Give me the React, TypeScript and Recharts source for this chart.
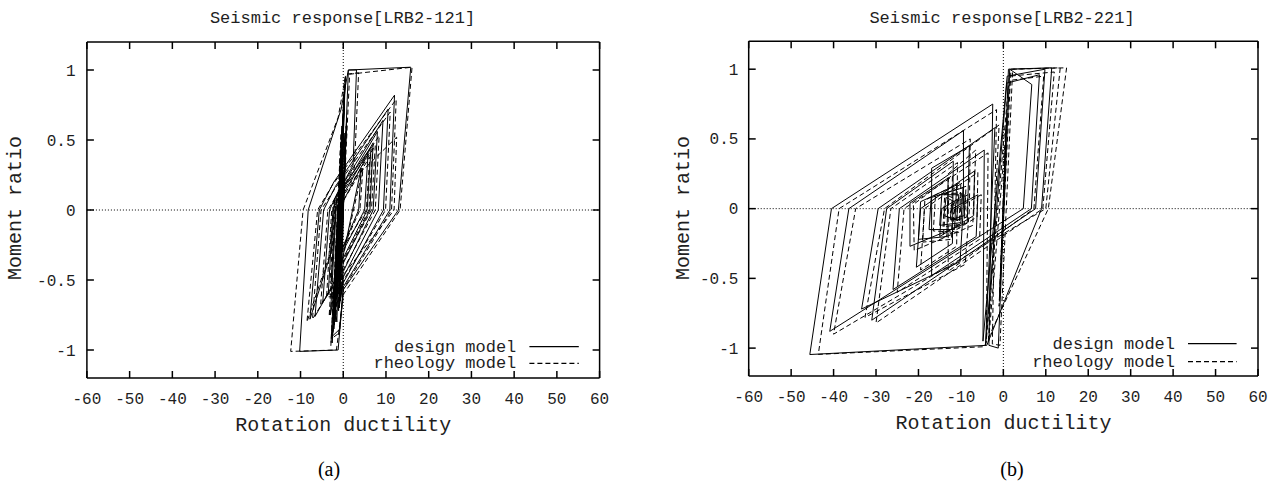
import React from 'react';
import { LineChart, Line, XAxis, YAxis, ReferenceLine } from 'recharts';

// ---------- tick labels ----------
const xTicks = [-60, -50, -40, -30, -20, -10, 0, 10, 20, 30, 40, 50, 60];
const yTicks = [-1, -0.5, 0, 0.5, 1];

// ---------- texts ----------
const titleA = 'Seismic response[LRB2-121]';
const titleB = 'Seismic response[LRB2-221]';
const xLabel = 'Rotation ductility';
const yLabel = 'Moment ratio';
const seriesNames = ['design model', 'rheology model'];
const captions = ['(a)', '(b)'];

// ---------- (a) LRB2-121 : [rotation ductility, moment ratio] ----------
const designA: [number, number][] = [
  [0, 0], [0.5, 0.4], [-0.6, -0.45], [0.8, 0.65], [-1.0, -0.7],
  [1.2, 1.0], [15.8, 1.02], [12.9, 0.0], [0.0, -0.57], [-1.2, -1.0], [-10.2, -1.01], [-8.2, 0.0], [-0.5, 0.72], [1.2, 1.0], [3.1, 1.0],
  [2.3, 0.32], [-2.0, 0.08], [-2.8, -0.3], [-7.8, -0.78], [-5.6, 0.0], [-2.2, 0.2], [12.0, 0.82], [10.9, 0.0], [0.0, -0.55], [-0.8, -0.85],
  [-2.5, -0.9], [-0.3, 0.6], [-1.8, -0.5], [-6.6, -0.76], [-4.6, 0.0], [-1.8, 0.17], [10.5, 0.72], [9.4, 0.0], [0.0, -0.52], [-1.0, -0.7],
  [0.3, 0.85], [-1.5, -0.8], [-2.4, -0.55], [-4.8, -0.66], [-3.2, 0.0], [-1.4, 0.12], [9.3, 0.64], [8.2, 0.0], [0.0, -0.48], [-0.7, -0.65],
  [0.1, 0.7], [-1.1, -0.6], [-3.5, -0.6], [-2.4, 0.0], [-1.0, 0.1], [8.0, 0.56], [7.0, 0.0], [0.0, -0.44], [-0.5, -0.58], [-2.8, -0.5],
  [-1.8, 0.0], [-0.6, 0.08], [7.0, 0.48], [6.25, 0.0], [0.0, -0.38], [-0.4, -0.5], [0.4, 0.55], [-1.6, -0.35], [-1.1, 0.0], [5.8, 0.4],
  [5.0, 0.0], [-0.2, -0.3], [0.3, 0.3], [-0.8, -0.2], [0.2, 0.15], [-0.3, -0.1], [0, 0],
  [-2.2, -0.85], [0.4, 0.9], [-1.9, -0.8], [0.2, 0.8], [-2.6, -0.95], [0.5, 0.95], [-1.4, -0.62], [-0.2, 0.5],
  [-2.0, -0.72], [0.0, 0.62], [-1.2, -0.5], [4.2, 0.3], [3.6, 0.0], [-0.6, -0.3], [-3.0, -0.75], [-1.5, 0.1], [6.5, 0.45],
  [5.6, 0.0], [-0.9, -0.4], [-0.1, 0.3], [-0.9, -0.1], [0, 0],
];
const rheologyA: [number, number][] = [
  [0, 0], [0.45, 0.38], [-0.7, -0.5], [0.7, 0.6], [-1.1, -0.72],
  [1.5, 0.97], [16.1, 1.02], [13.3, 0.0], [0.1, -0.6], [-1.6, -1.0], [-12.3, -1.01], [-9.4, 0.0], [-1.2, 0.66], [0.6, 0.97], [3.6, 0.98],
  [2.6, 0.3], [-2.3, 0.05], [-3.2, -0.32], [-8.5, -0.8], [-6.0, 0.0], [-2.5, 0.18], [12.4, 0.79], [11.3, 0.0], [0.1, -0.56], [-1.0, -0.88],
  [-2.8, -0.92], [-0.5, 0.55], [-2.0, -0.52], [-7.2, -0.78], [-5.2, 0.0], [-2.0, 0.15], [11.0, 0.7], [9.9, 0.0], [0.1, -0.5], [-1.2, -0.72],
  [0.2, 0.8], [-1.7, -0.78], [-2.7, -0.55], [-5.3, -0.68], [-3.6, 0.0], [-1.6, 0.1], [12.5, 0.52], [11.9, 0.0], [0.1, -0.46], [-0.9, -0.66],
  [0.0, 0.68], [-1.3, -0.62], [-3.9, -0.62], [-2.7, 0.0], [-1.2, 0.08], [8.4, 0.53], [7.5, 0.0], [0.1, -0.42], [-0.6, -0.56], [-3.1, -0.52],
  [-2.0, 0.0], [-0.8, 0.06], [7.5, 0.46], [6.6, 0.0], [0.1, -0.36], [-0.5, -0.48], [0.3, 0.5], [-1.8, -0.35], [-1.3, 0.0], [6.2, 0.38],
  [5.4, 0.0], [-0.3, -0.28], [0.2, 0.28], [-0.9, -0.2], [0.1, 0.12], [-0.3, -0.1], [0, 0],
  [-2.4, -0.88], [0.3, 0.88], [-2.1, -0.82], [0.1, 0.78], [-2.9, -0.97], [0.4, 0.93], [-1.6, -0.64], [-0.3, 0.48],
  [-2.2, -0.74], [-0.1, 0.6], [-1.4, -0.52], [4.6, 0.3], [3.9, 0.0], [-0.8, -0.32], [-3.3, -0.76], [-1.7, 0.08], [6.9, 0.44],
  [6.0, 0.0], [-1.0, -0.42], [-0.2, 0.28], [-1.0, -0.12], [0, 0],
];

// ---------- (b) LRB2-221 ----------
const designB: [number, number][] = [
  [0, 0], [0.7, 0.6], [-0.9, -0.65], [1.2, 1.0], [11.4, 1.01], [9.0, 0.0], [-3.9, -0.98], [-45.6, -1.046], [-40.5, 0.0], [-2.5, 0.75],
  [-3.4, -0.98], [-1.2, -1.0], [1.5, 1.0], [6.7, 0.89], [4.7, 0.0], [-40.9, -0.88], [-36.4, 0.0], [-9.4, 0.56],
  [-9.4, 0.02], [-10.2, -0.38], [-33.4, -0.72], [-29.5, 0.0], [-2.0, 0.58], [-4.2, -0.98], [0.8, 0.9], [8.5, 0.96], [6.6, 0.0], [-16.9, -0.48],
  [-16.9, 0.29], [-8.0, 0.45], [-8.5, -0.1], [-22.0, -0.27], [-22.0, 0.04], [-13.0, 0.22], [-13.3, -0.2], [-20.0, -0.22], [-19.5, 0.05], [-11.0, 0.17],
  [-11.5, -0.15], [-17.5, -0.15], [-17.0, 0.08], [-9.5, 0.15], [-10.0, -0.1], [-15.0, -0.12], [-14.5, 0.1], [-10.5, 0.1], [-11.0, -0.08],
  [-14.0, -0.05], [-13.5, 0.08], [-11.5, 0.05], [-12.5, -0.03], [-12.0, 0.0],
  [-6.0, 0.1], [-6.4, -0.2], [-26.0, -0.58], [-24.5, 0.0], [-4.5, 0.42], [-4.8, -0.95], [0.9, 0.95], [9.8, 1.0], [7.6, 0.0],
  [-31.0, -0.8], [-27.5, 0.0], [-11.8, 0.34], [-12.0, -0.25], [-20.5, -0.42], [-19.5, 0.0], [-6.8, 0.27], [-7.0, -0.05],
  [-15.0, -0.2], [-14.5, 0.0], [-9.0, 0.1], [-9.2, -0.05], [-12.5, -0.08], [-12.2, 0.03],
];
const rheologyB: [number, number][] = [
  [0, 0], [0.6, 0.55], [-1.0, -0.7], [1.8, 1.0], [14.9, 1.01], [10.6, 0.0], [-4.5, -0.99], [-43.6, -1.045], [-38.7, 0.0], [-1.6, 0.71],
  [-2.6, -0.97], [-0.8, -0.98], [2.2, 1.0], [13.4, 1.01], [10.0, 0.0], [-40.0, -0.9], [-34.8, 0.0], [-7.8, 0.5],
  [-8.0, 0.0], [-9.0, -0.4], [-32.6, -0.78], [-28.0, 0.0], [-1.0, 0.6], [-3.5, -0.96], [1.6, 0.92], [9.5, 0.95], [7.2, 0.0], [-13.0, -0.45],
  [-13.0, 0.25], [-6.5, 0.42], [-7.2, -0.12], [-21.0, -0.3], [-21.2, 0.03], [-12.0, 0.24], [-12.2, -0.22], [-19.0, -0.24], [-18.5, 0.06], [-10.0, 0.19],
  [-10.5, -0.17], [-16.5, -0.16], [-16.0, 0.09], [-8.8, 0.16], [-9.2, -0.11], [-14.2, -0.13], [-13.8, 0.11], [-9.8, 0.11], [-10.3, -0.09],
  [-13.2, -0.06], [-12.8, 0.09], [-10.8, 0.06], [-11.8, -0.04], [-11.2, 0.0],
  [-5.2, 0.1], [-5.6, -0.22], [-25.0, -0.6], [-23.4, 0.0], [-3.6, 0.4], [-4.0, -0.94], [1.4, 0.95], [12.0, 0.98], [9.3, 0.0],
  [-30.0, -0.82], [-26.5, 0.0], [-10.8, 0.33], [-11.0, -0.27], [-19.5, -0.44], [-18.6, 0.0], [-6.0, 0.26], [-6.2, -0.06],
  [-14.2, -0.21], [-13.6, 0.0], [-8.4, 0.1], [-8.6, -0.06], [-11.8, -0.09], [-11.4, 0.03],
];

const toPts = (arr: [number, number][]) => arr.map(([x, y]) => ({ x, y }));

const MONO = '"Liberation Mono", "DejaVu Sans Mono", monospace';
const INK = '#1e1e1e';
const TICK = 7;

type Geo = { left: number; right: number; top: number; bottom: number; yLabelRight: number };

type PanelProps = {
  left: number;
  width: number;
  geo: Geo;
  design: [number, number][];
  rheology: [number, number][];
};

function Panel({ left, width, geo, design, rheology }: PanelProps) {
  const margin = { top: geo.top, right: width - geo.right, bottom: 485 - geo.bottom - 30, left: geo.left - 60 };
  const axisLine = { stroke: '#000', strokeWidth: 1.5 };

  const XTick = (props: any) => {
    const x = props.x;
    return (
      <g>
        <line x1={x} x2={x} y1={geo.bottom} y2={geo.bottom - TICK} stroke="#000" strokeWidth={1.5} />
        <line x1={x} x2={x} y1={geo.top} y2={geo.top + TICK} stroke="#000" strokeWidth={1.5} />
        <text x={x} y={geo.bottom + 25.5} textAnchor="middle" fontFamily={MONO} fontSize={16} fill={INK}>
          {props.payload.value}
        </text>
      </g>
    );
  };
  const YTick = (props: any) => {
    const y = props.y;
    return (
      <g>
        <line x1={geo.left} x2={geo.left + TICK} y1={y} y2={y} stroke="#000" strokeWidth={1.5} />
        <line x1={geo.right} x2={geo.right - TICK} y1={y} y2={y} stroke="#000" strokeWidth={1.5} />
        <text x={geo.yLabelRight} y={y + 5.5} textAnchor="end" fontFamily={MONO} fontSize={16} fill={INK}>
          {props.payload.value}
        </text>
      </g>
    );
  };

  return (
    <div style={{ position: 'absolute', left, top: 0 }}>
      <LineChart width={width} height={485} margin={margin}>
        <XAxis xAxisId="b" type="number" dataKey="x" domain={[-60, 60]} ticks={xTicks} interval={0}
          orientation="bottom" height={30} tickSize={0} tickMargin={0} tickLine={false}
          tick={<XTick />} axisLine={axisLine} allowDataOverflow />
        <YAxis yAxisId="l" type="number" domain={[-1.2, 1.2]} ticks={yTicks} interval={0}
          orientation="left" width={60} tickSize={0} tickMargin={0} tickLine={false}
          tick={<YTick />} axisLine={axisLine} allowDataOverflow />
        <ReferenceLine xAxisId="b" yAxisId="l" x={0} stroke="#000" strokeWidth={1} strokeDasharray="1 2" />
        <ReferenceLine xAxisId="b" yAxisId="l" y={0} stroke="#000" strokeWidth={1} strokeDasharray="1 2" />
        <ReferenceLine xAxisId="b" yAxisId="l" y={1.2} stroke="#000" strokeWidth={1.5} ifOverflow="visible" />
        <ReferenceLine xAxisId="b" yAxisId="l" x={60} stroke="#000" strokeWidth={1.5} ifOverflow="visible" />
        <Line xAxisId="b" yAxisId="l" data={toPts(design)} dataKey="y" type="linear" stroke="#000"
          strokeWidth={1} dot={false} activeDot={false} isAnimationActive={false} name={seriesNames[0]} />
        <Line xAxisId="b" yAxisId="l" data={toPts(rheology)} dataKey="y" type="linear" stroke="#000"
          strokeWidth={1} strokeDasharray="5 3" dot={false} activeDot={false} isAnimationActive={false} name={seriesNames[1]} />
      </LineChart>
    </div>
  );
}

function LegendBlock({ textRight, lineX1, lineX2, y1, y2 }: { textRight: number; lineX1: number; lineX2: number; y1: number; y2: number }) {
  return (
    <g>
      <text x={textRight} y={y1 + 5} textAnchor="end" fontFamily={MONO} fontSize={17} fill={INK}>{seriesNames[0]}</text>
      <line x1={lineX1} x2={lineX2} y1={y1} y2={y1} stroke="#000" strokeWidth={1.2} />
      <text x={textRight} y={y2 + 5} textAnchor="end" fontFamily={MONO} fontSize={17} fill={INK}>{seriesNames[1]}</text>
      <line x1={lineX1} x2={lineX2} y1={y2} y2={y2} stroke="#000" strokeWidth={1.2} strokeDasharray="5 3" />
    </g>
  );
}

export default function App() {
  return (
    <div style={{ position: 'absolute', left: 0, top: 0, width: 1283, height: 485, background: '#fff', overflow: 'hidden' }}>
      <Panel left={0} width={640} geo={{ left: 86.9, right: 599.6, top: 42, bottom: 378, yLabelRight: 75.5 }}
        design={designA} rheology={rheologyA} />
      <Panel left={640} width={643} geo={{ left: 108.7, right: 618, top: 41.3, bottom: 376, yLabelRight: 98.4 }}
        design={designB} rheology={rheologyB} />
      <svg width={1283} height={485} style={{ position: 'absolute', left: 0, top: 0, pointerEvents: 'none' }}>
        <text x={342.5} y={22.7} textAnchor="middle" fontFamily={MONO} fontSize={17} fill={INK}>{titleA}</text>
        <text x={1002} y={22.7} textAnchor="middle" fontFamily={MONO} fontSize={17} fill={INK}>{titleB}</text>
        <text x={343.3} y={431} textAnchor="middle" fontFamily={MONO} fontSize={20} fill={INK}>{xLabel}</text>
        <text x={1003.5} y={429} textAnchor="middle" fontFamily={MONO} fontSize={20} fill={INK}>{xLabel}</text>
        <text transform="translate(21,208) rotate(-90)" textAnchor="middle" fontFamily={MONO} fontSize={20} fill={INK}>{yLabel}</text>
        <text transform="translate(689,208) rotate(-90)" textAnchor="middle" fontFamily={MONO} fontSize={20} fill={INK}>{yLabel}</text>
        <LegendBlock textRight={516.3} lineX1={529.4} lineX2={578.8} y1={346.7} y2={363.3} />
        <LegendBlock textRight={1175} lineX1={1188} lineX2={1236.6} y1={343.7} y2={361.7} />
        <text x={329} y={476} textAnchor="middle" fontFamily='"Liberation Serif", "Times New Roman", serif' fontSize={20} fill="#000">{captions[0]}</text>
        <text x={1012} y={476} textAnchor="middle" fontFamily='"Liberation Serif", "Times New Roman", serif' fontSize={20} fill="#000">{captions[1]}</text>
      </svg>
    </div>
  );
}
